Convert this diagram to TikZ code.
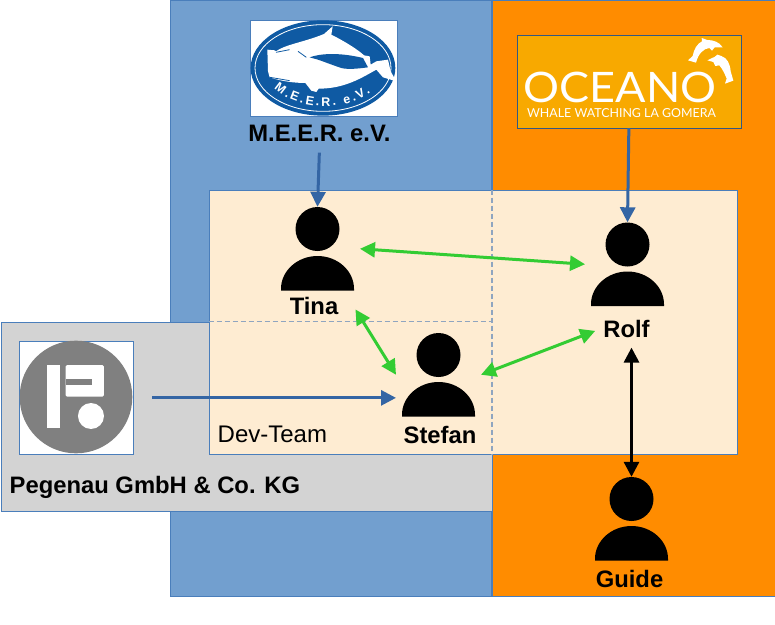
\documentclass[tikz,border=0pt]{standalone}
\usepackage{fontspec}
\setmainfont{Liberation Sans}
\newfontfamily\oceanofont{Lato}
\usetikzlibrary{arrows.meta,positioning,calc,decorations.text}
\definecolor{meerblue}{HTML}{729FCF}
\definecolor{oceanoorange}{HTML}{FF8C00}
\definecolor{oceanogold}{HTML}{F8A900}
\definecolor{devbeige}{HTML}{FEECD2}
\definecolor{pegegray}{HTML}{D3D3D3}
\definecolor{edgeblue}{HTML}{4A7EBB}
\definecolor{dashgray}{HTML}{8FA5C0}
\definecolor{arrowblue}{HTML}{3465A4}
\definecolor{arrowgreen}{HTML}{33CC33}
\definecolor{logoblue}{HTML}{0F5AA3}
\tikzset{
  panel/.style  = {draw=edgeblue, line width=0.8pt, anchor=north west, inner sep=0pt},
  logobox/.style= {draw=edgeblue, fill=white, line width=0.7pt, anchor=north west, inner sep=0pt},
  person/.style = {inner sep=0pt, outer xsep=6pt, minimum width=73pt, minimum height=83.5pt,
                   path picture={
                     \begin{scope}[shift={(path picture bounding box.center)}]
                       \fill[black] (0,-19.75) circle (22);
                       \fill[black] (-36.5,41.75) -- (-36.5,40) .. controls (-36.5,22) and (-20,7.25) .. (0,7.25)
                         .. controls (20,7.25) and (36.5,22) .. (36.5,40) -- (36.5,41.75) -- cycle;
                     \end{scope}}},
  who/.style    = {inner sep=0pt, text height=17pt, text depth=4pt,
                   font=\fontsize{23.8}{28}\selectfont\bfseries},
  teamtxt/.style= {inner sep=0pt, text height=17pt, text depth=4pt, anchor=west,
                   font=\fontsize{24}{28}\selectfont},
  dashln/.style = {draw=dashgray, line width=1.4pt, dash pattern=on 5pt off 3pt},
  member/.style = {-{Triangle[length=15pt,width=15pt]}, draw=arrowblue, line width=3pt},
  talk/.style   = {{Triangle[length=15pt,width=15pt]}-{Triangle[length=15pt,width=15pt]}, draw=arrowgreen, line width=3pt},
  guides/.style = {{Triangle[length=15pt,width=15pt]}-{Triangle[length=15pt,width=15pt]}, draw=black, line width=3pt}
}
\begin{document}
\begin{tikzpicture}[x=1pt,y=-1pt]
  \useasboundingbox (0,0) rectangle (775,624);
  \node[panel, fill=meerblue, minimum width=321pt, minimum height=595.5pt] (meerpanel) at (170.3,0) {};
  \node[panel, fill=oceanoorange, minimum width=290pt, minimum height=595.5pt] (oceanopanel) at (491.5,0) {};
  \node[panel, fill=pegegray, minimum width=491pt, minimum height=189pt] (pegepanel) at (0.5,321.5) {};
  \node[panel, fill=devbeige, minimum width=528pt, minimum height=264pt] (devpanel) at (208.5,189.5) {};
  \draw[dashln] (meerpanel.east |- devpanel.north) -- (meerpanel.east |- devpanel.south);
  \draw[dashln] (devpanel.west |- pegepanel.north) -- (meerpanel.east |- pegepanel.north);

  \node[logobox, minimum width=147pt, minimum height=96pt] (meerlogo) at (249.5,19.5) {};
  \begin{scope}[shift={(248,18)},x=0.3333pt,y=-0.3333pt]
    \fill[logoblue] (225,150) ellipse (217 and 143);
    \draw[white, line width=0.8pt] (225,150) ellipse (204 and 130);
    \fill[white] (58,95) -- (80,97) -- (84,100) .. controls (110,80) and (170,72) .. (228,48) -- (254,25) -- (250,50)
      .. controls (290,70) and (330,95) .. (348,112) -- (365,115) -- (368,140) -- (385,130) -- (420,125) -- (428,160) -- (445,190)
      -- (405,178) -- (385,155) .. controls (340,180) and (290,212) .. (212,212) -- (205,222) -- (190,218) -- (172,195)
      .. controls (140,195) and (100,190) .. (65,178) -- (60,160) -- cycle;
    \fill[logoblue] (185,118) .. controls (215,107) and (270,102) .. (345,120) -- (360,148) .. controls (330,152) and (300,155) .. (280,150)
      .. controls (250,140) and (225,130) .. (210,125) -- cycle;
    \draw[logoblue, line width=0.8pt] (66,178) -- (125,188);
    \draw[logoblue, line width=0.8pt] (84,103) -- (125,95);
    \draw[logoblue, line width=0.8pt] (150,100) -- (175,118);
    \path[decorate, decoration={text along path, text color=white, text align={fit to path},
      text={|\fontsize{12.5}{14}\selectfont\bfseries|M.E.E.R. e.V.}}]
      (78,212) .. controls (150,280) and (300,280) .. (368,222);
  \end{scope}
  \node[who, below=8pt of meerlogo, xshift=-4pt] (meername) {M.E.E.R. e.V.};

  \node[logobox, draw=edgeblue!70!black, fill=oceanogold, minimum width=224pt, minimum height=93pt] (oceanologo) at (516.5,34.5) {};
  \node[inner sep=0pt, text=white, font=\fontsize{42}{44}\oceanofont, xscale=1.07, transform shape] (oceanoword) at (620,87) {OCEANO};
  \node[inner sep=0pt, text=white, font=\fontsize{12.4}{15}\oceanofont] (oceanosub) at (621.5,113) {WHALE WATCHING LA GOMERA};
  \begin{scope}[shift={(680,32)},x=0.3333pt,y=-0.3333pt]
    \fill[white] (24,85) -- (38,72) .. controls (42,50) and (52,35) .. (66,28) -- (65,18) -- (82,24)
      .. controls (100,24) and (118,30) .. (128,46) -- (104,46) -- (96,56) -- (88,48)
      .. controls (70,50) and (55,65) .. (48,92) -- cycle;
    \fill[white] (82,85) -- (105,74) -- (112,68) -- (124,72) .. controls (142,78) and (150,95) .. (152,118)
      -- (160,146) -- (135,155) -- (140,140) .. controls (134,125) and (128,112) .. (118,100) -- (106,102) -- (100,90) -- cycle;
  \end{scope}

  \node[logobox, minimum width=114pt, minimum height=113pt] (pegelogo) at (19,341) {};
  \begin{scope}[shift={(0,320)},x=0.3333pt,y=-0.3333pt]
    \fill[black!50] (228,231) circle (169);
    \fill[white] (141,135) rectangle (180,325);
    \fill[white, rounded corners=1.5pt] (197,135) -- (312,135) -- (312,230) -- (197,230) -- cycle;
    \fill[black!50] (197,178) rectangle (275,195);
    \fill[white] (273,288) circle (39);
  \end{scope}
  \node[who, anchor=west] (pegename) at (9.5,486.5) {Pegenau GmbH \& Co. KG};

  \node[person] (tina) at (317.5,248.75) {};
  \node[person] (stefan) at (438.5,374.75) {};
  \node[person] (rolf) at (627.5,264.25) {};
  \node[person] (guide) at (631.5,518.75) {};
  \node[who, below=7pt of tina, xshift=-3.5pt] (tinaname) {Tina};
  \node[who, below=10pt of stefan, xshift=1.5pt] (stefanname) {Stefan};
  \node[who, below=14pt of rolf, xshift=-1pt] (rolfname) {Rolf};
  \node[who, below=10pt of guide, xshift=-2pt] (guidename) {Guide};
  \node[teamtxt] (devname) at (217.5,435.5) {Dev-Team};

  \draw[member] ([yshift=-7pt]meername.south) -- (tina.north);
  \draw[member] (oceanologo.south) -- (rolf.north);
  \draw[member] ([xshift=18.5pt]pegelogo.east) -- (stefan.west |- pegelogo.east);
  \draw[talk] (tina.east) -- (rolf.west);
  \draw[talk] ([xshift=17pt,yshift=-1pt]tinaname.east) -- (stefan.west);
  \draw[talk] (stefan.east) -- ([xshift=-8pt]rolfname.west);
  \draw[guides] (guide.north |- rolfname.south) ++(0,6) -- (guide.north);
\end{tikzpicture}
\end{document}
